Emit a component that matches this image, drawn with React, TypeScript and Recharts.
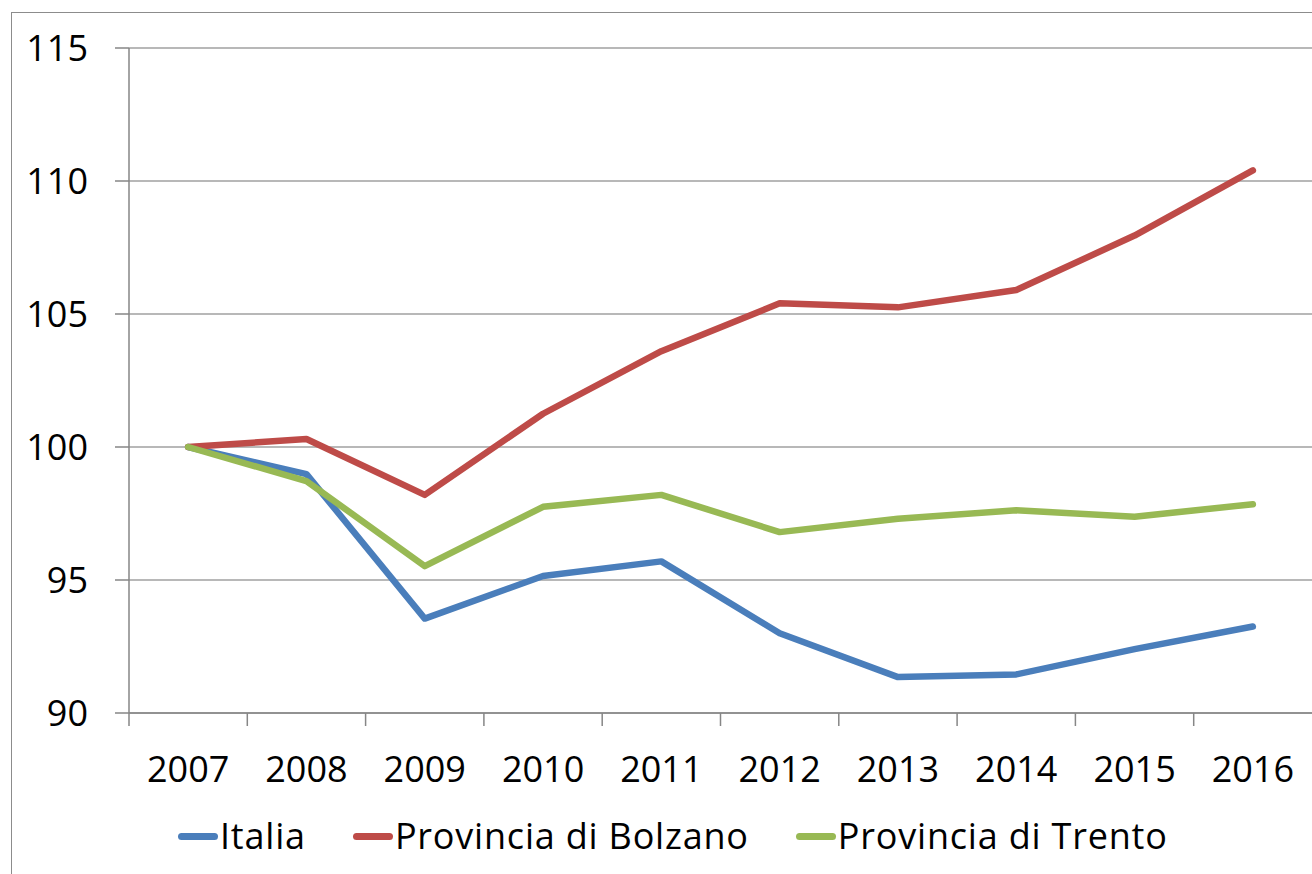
import { LineChart, Line, XAxis, YAxis, CartesianGrid } from "recharts";

const years = ["2007", "2008", "2009", "2010", "2011", "2012", "2013", "2014", "2015", "2016"];
const italia = [100, 98.98, 93.55, 95.15, 95.7, 93.0, 91.35, 91.45, 92.4, 93.25];
const bolzano = [100, 100.3, 98.2, 101.25, 103.6, 105.4, 105.25, 105.9, 107.95, 110.4];
const trento = [100, 98.72, 95.52, 97.75, 98.2, 96.8, 97.3, 97.62, 97.38, 97.85];
const yTicks = [90, 95, 100, 105, 110, 115];

const series = [
  { key: "italia", name: "Italia", color: "#4a7ebb" },
  { key: "bolzano", name: "Provincia di Bolzano", color: "#be4b48" },
  { key: "trento", name: "Provincia di Trento", color: "#98b954" },
];

const data = years.map((year, i) => ({
  year,
  italia: italia[i],
  bolzano: bolzano[i],
  trento: trento[i],
}));

const W = 1312;
const H = 874;
const TOP = 48;
const LEFT = 129;
const AXIS_Y = 713;
const BAND = (W - LEFT) / years.length;
const FONT = "'Open Sans', Lato, sans-serif";

// Excel-style: tick marks sit between the categories
function YearTick(props: any) {
  const { x, payload } = props;
  const left = x - BAND / 2;
  return (
    <g>
      <line x1={left} y1={AXIS_Y} x2={left} y2={AXIS_Y + 13} stroke="#868686" strokeWidth={1.5} />
      <text x={x} y={AXIS_Y + 69} textAnchor="middle" fontSize={36} fontFamily={FONT} fill="#000">
        {payload.value}
      </text>
    </g>
  );
}

function LegendBox() {
  return (
    <div
      style={{
        position: "absolute",
        left: 178,
        top: 811,
        height: 50,
        display: "flex",
        alignItems: "center",
        fontFamily: FONT,
        fontSize: 36,
        letterSpacing: 0.8,
        color: "#000",
        whiteSpace: "nowrap",
      }}
    >
      {series.map((s) => (
        <div key={s.key} style={{ display: "flex", alignItems: "center", marginRight: 47 }}>
          <div style={{ width: 40, height: 7, borderRadius: 3.5, background: s.color, marginRight: 2 }} />
          <span style={{ lineHeight: "50px" }}>{s.name}</span>
        </div>
      ))}
    </div>
  );
}

export default function App() {
  return (
    <div style={{ position: "fixed", left: 0, top: 0, width: W, height: H, overflow: "hidden", background: "#fff" }}>
      <div
        style={{
          position: "absolute",
          left: 11,
          top: 12,
          width: 1500,
          height: 1200,
          border: "1px solid #8c8c8c",
        }}
      />
      <div style={{ position: "absolute", left: 0, top: 0 }}>
        <LineChart width={W} height={H} data={data} margin={{ top: TOP, right: 0, left: 0, bottom: 0 }}>
          <CartesianGrid vertical={false} stroke="#a0a0a0" strokeWidth={1.5} />
          <XAxis
            dataKey="year"
            tick={<YearTick />}
            tickLine={false}
            axisLine={{ stroke: "#868686", strokeWidth: 1.5 }}
            interval={0}
            padding={{ left: BAND / 2, right: BAND / 2 }}
            height={H - AXIS_Y}
          />
          <YAxis
            domain={[90, 115]}
            ticks={yTicks}
            width={LEFT}
            tickSize={14}
            tickMargin={27}
            axisLine={{ stroke: "#868686", strokeWidth: 1.5 }}
            tickLine={{ stroke: "#868686", strokeWidth: 1.5 }}
            tick={{ fontSize: 36, fontFamily: FONT, fill: "#000" }}
          />
          {series.map((s) => (
            <Line
              key={s.key}
              type="linear"
              dataKey={s.key}
              name={s.name}
              stroke={s.color}
              strokeWidth={6.5}
              strokeLinejoin="round"
              strokeLinecap="round"
              dot={false}
              isAnimationActive={false}
            />
          ))}
        </LineChart>
      </div>
      <LegendBox />
    </div>
  );
}
